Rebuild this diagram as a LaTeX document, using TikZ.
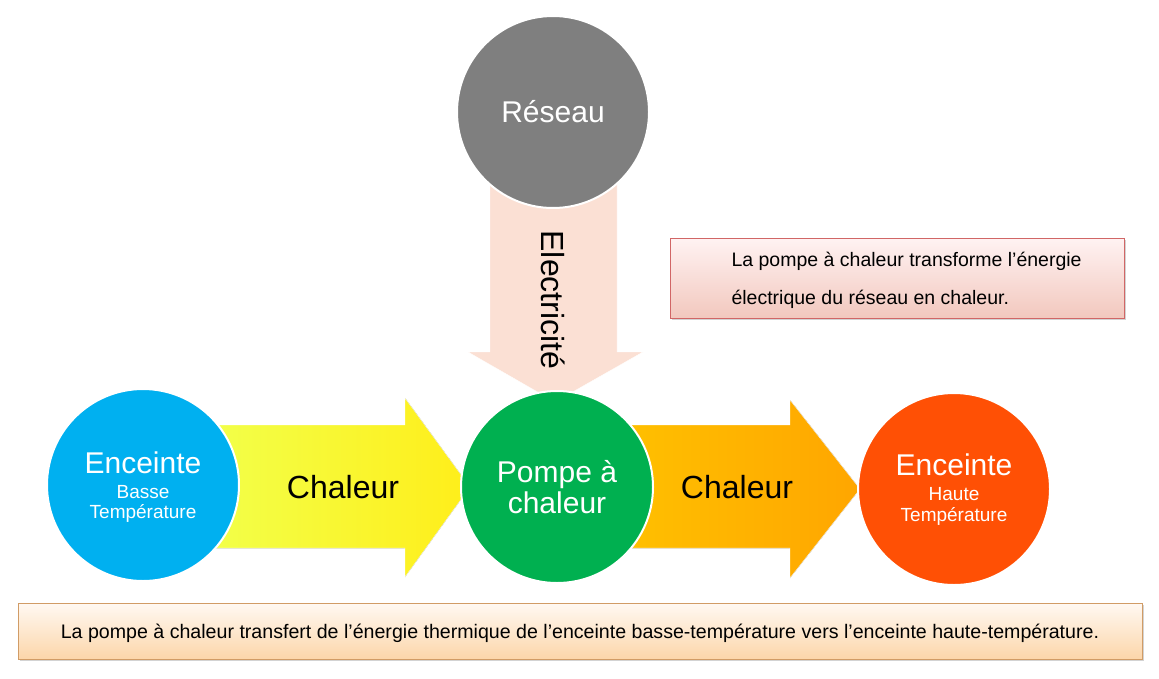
\documentclass[tikz,border=0pt]{standalone}
\usepackage{fontspec}
\setmainfont{Liberation Sans}
\usetikzlibrary{shadows}
\newcommand{\bigf}{\fontsize{30}{30}\selectfont}
\newcommand{\smf}{\fontsize{19}{21}\selectfont}
\begin{document}
\begin{tikzpicture}[x=1pt,y=-1pt,
  circ/.style={circle,minimum size=192pt,draw=white,line width=2pt,text=white,align=center,inner sep=0pt},
  wt/.style={text=white,inner sep=0pt},
  big/.style={font=\fontsize{32}{34}\selectfont},
  box/.style={draw=#1!70!black!60,line width=0.6pt,drop shadow={opacity=0.35,shadow xshift=2pt,shadow yshift=-2pt}}]
\useasboundingbox (0,0) rectangle (1159,678);
% arrows
\fill[left color=yellow!70!white!95!green,right color=yellow!85!orange!90!white,draw=white]
  (215,425) -- (405,425) -- (405,398) -- (470,487) -- (405,577) -- (405,548) -- (215,548) -- cycle;
\fill[left color=orange!50!yellow,right color=orange!70!yellow,draw=white]
  (630,425) -- (790,425) -- (790,400) -- (860,489) -- (790,578) -- (790,548) -- (630,548) -- cycle;
\fill[fill={rgb,255:red,251;green,224;blue,212},draw=white]
  (490,180) -- (617,180) -- (617,352) -- (643,352) -- (555,402) -- (468,352) -- (490,352) -- cycle;
\node[rotate=-90,big] (el) at (553,300) {Electricité};
\node[big] (c1) at (343,487) {Chaleur};
\node[big] (c2) at (737,487) {Chaleur};
% circles
\node[circ,fill={rgb,255:red,127;green,127;blue,127}] (res) at (553,112) {\bigf Réseau};
\node[circ,fill={rgb,255:red,0;green,176;blue,240}] (bt) at (143,485) {};
\node[wt,font=\bigf] (bt1) at (143,463) {Enceinte};
\node[wt,font=\smf] (bt2) at (143,492) {Basse};
\node[wt,font=\smf] (bt3) at (143,513) {Température};
\node[circ,fill={rgb,255:red,0;green,176;blue,80}] (pac) at (557,487) {\bigf Pompe à\\[2pt]\bigf chaleur};
\node[circ,fill={rgb,255:red,255;green,80;blue,5}] (ht) at (954,489) {};
\node[wt,font=\bigf] (ht1) at (954,465) {Enceinte};
\node[wt,font=\smf] (ht2) at (954,494) {Haute};
\node[wt,font=\smf] (ht3) at (954,516) {Température};
% boxes
\node[box=red,top color=white!95!red,bottom color={rgb,255:red,242;green,200;blue,190},minimum width=454pt,minimum height=80pt,inner sep=0pt] (b1) at (897,278) {};
\node[align=left,font=\fontsize{19.5}{38}\selectfont,anchor=west] (t1) at (728,280) {La pompe à chaleur transforme l’énergie\\électrique du réseau en chaleur.};
\node[box=orange,top color=white!95!orange,bottom color={rgb,255:red,252;green,214;blue,170},minimum width=1124pt,minimum height=56pt,inner sep=0pt] (b2) at (580,631) {};
\node[font=\fontsize{19.6}{22}\selectfont] (t2) at (580,633) {La pompe à chaleur transfert de l’énergie thermique de l’enceinte basse-température vers l’enceinte haute-température.};
\end{tikzpicture}
\end{document}
